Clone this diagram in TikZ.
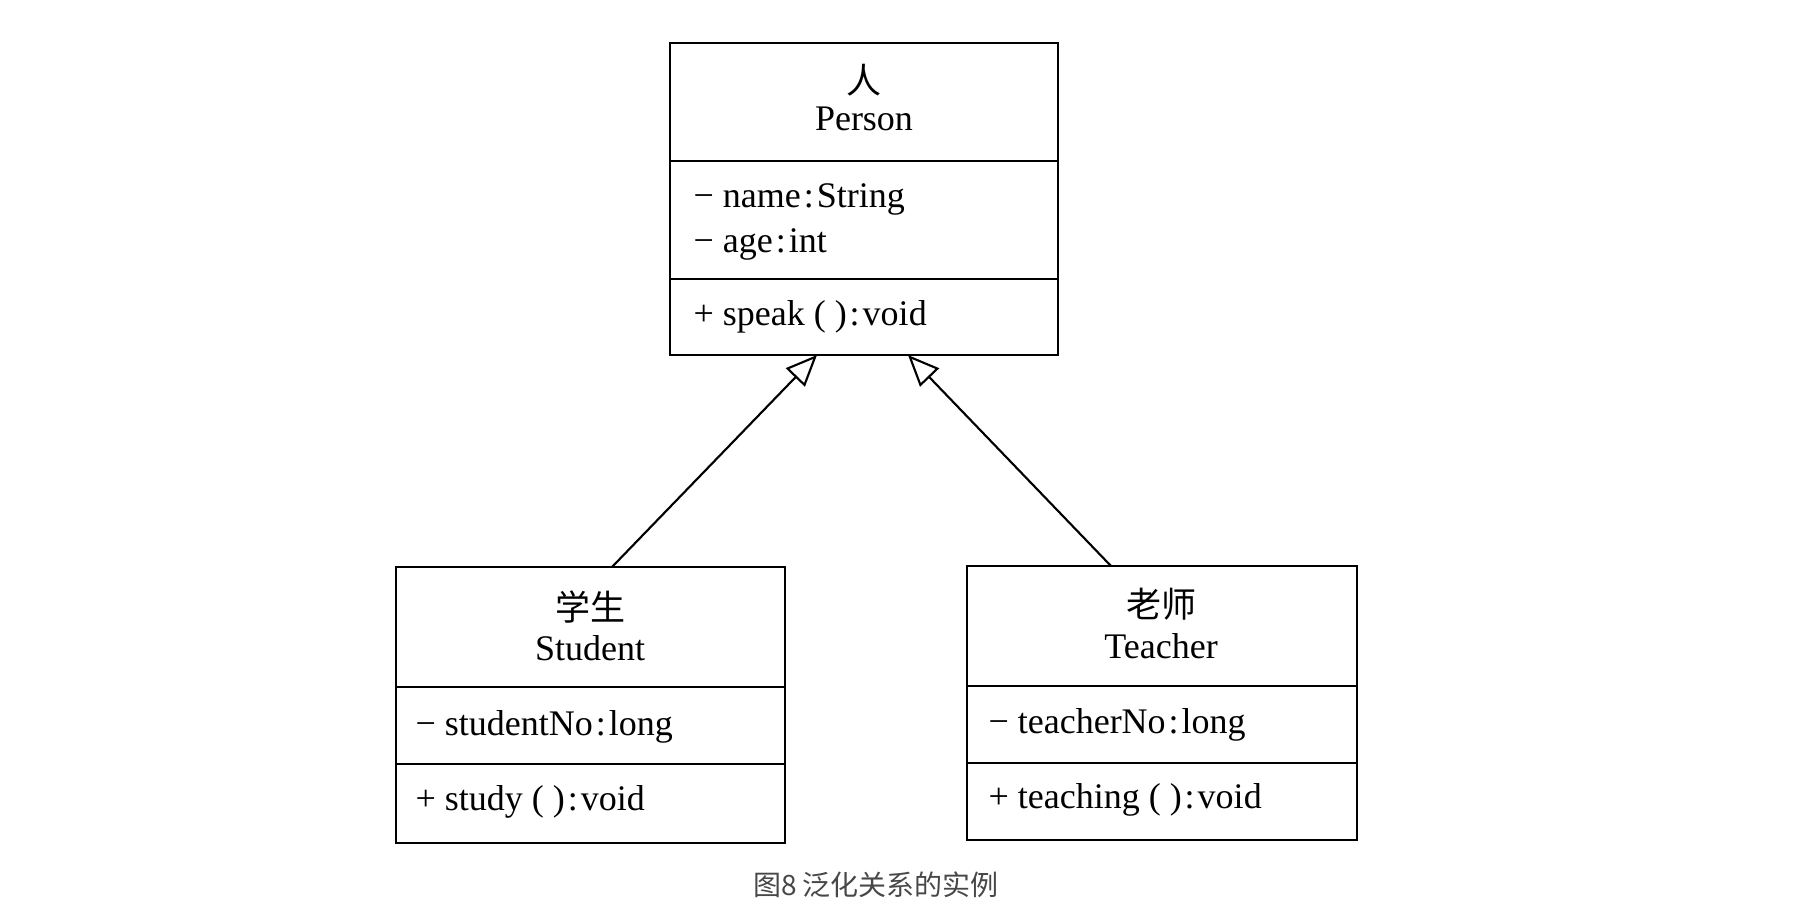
\documentclass[tikz,border=0pt]{standalone}
\usepackage{fontspec}
\setmainfont{Liberation Serif}
\newfontfamily\cjk{Noto Sans CJK SC}
\usetikzlibrary{arrows.meta}
\newcommand{\cl}{\kern1.2pt:\kern1.2pt}
\begin{document}
\begin{tikzpicture}[x=0.4pt,y=-0.4pt,
  comp/.style={draw, line width=1pt, anchor=north west, inner sep=0pt, outer sep=0pt},
  txt/.style={anchor=base west, inner sep=0pt, font=\fontsize{14.4}{17}\selectfont},
  ctitle/.style={anchor=base, inner sep=0pt, font=\fontsize{14.4}{17}\selectfont},
  cjkt/.style={anchor=center, inner sep=0pt, font=\cjk\fontsize{14}{16}\selectfont},
  gen/.style={line width=0.85pt, -{Triangle[open, length=12.5pt, width=10.5pt, line width=0.85pt]}}
]
\useasboundingbox (0,0) rectangle (1808,922);
% Person
\node[comp, minimum width=388*0.4pt, minimum height=118*0.4pt] (personT) at (670,43) {};
\node[comp, minimum width=388*0.4pt, minimum height=118*0.4pt] (personA) at (670,161) {};
\node[comp, minimum width=388*0.4pt, minimum height=76*0.4pt] (personM) at (670,279) {};
\node[cjkt] (pc) at (864,80) {人};
\node[ctitle] (pn) at (864,130) {Person};
\node[txt] (pa1) at (693,207) {− name\cl String};
\node[txt] (pa2) at (693,252) {− age\cl int};
\node[txt] (pm1) at (693,325) {+ speak ( )\cl void};
% Student
\node[comp, minimum width=389*0.4pt, minimum height=120*0.4pt] (studentT) at (396,567) {};
\node[comp, minimum width=389*0.4pt, minimum height=77*0.4pt] (studentA) at (396,687) {};
\node[comp, minimum width=389*0.4pt, minimum height=79*0.4pt] (studentM) at (396,764) {};
\node[cjkt] (sc) at (590,607) {学生};
\node[ctitle] (sn) at (590,660) {Student};
\node[txt] (sa1) at (415,735) {− studentNo\cl long};
\node[txt] (sm1) at (415,810) {+ study ( )\cl void};
% Teacher
\node[comp, minimum width=390*0.4pt, minimum height=120*0.4pt] (teacherT) at (967,566) {};
\node[comp, minimum width=390*0.4pt, minimum height=77*0.4pt] (teacherA) at (967,686) {};
\node[comp, minimum width=390*0.4pt, minimum height=77*0.4pt] (teacherM) at (967,763) {};
\node[cjkt] (tc) at (1161,604) {老师};
\node[ctitle] (tn) at (1161,658) {Teacher};
\node[txt] (ta1) at (988,733) {− teacherNo\cl long};
\node[txt] (tm1) at (988,808) {+ teaching ( )\cl void};
% generalization
\draw[gen] ([xshift=8.6pt]studentT.north) -- ([xshift=-18.8pt]personM.south);
\draw[gen] ([xshift=-20.4pt]teacherT.north) -- ([xshift=17.6pt]personM.south);
% caption
\node[anchor=center, inner sep=0pt, text=black!72, font=\cjk\fontsize{11.2}{13}\selectfont] (cap) at (876,885) {图8 泛化关系的实例};
\end{tikzpicture}
\end{document}
